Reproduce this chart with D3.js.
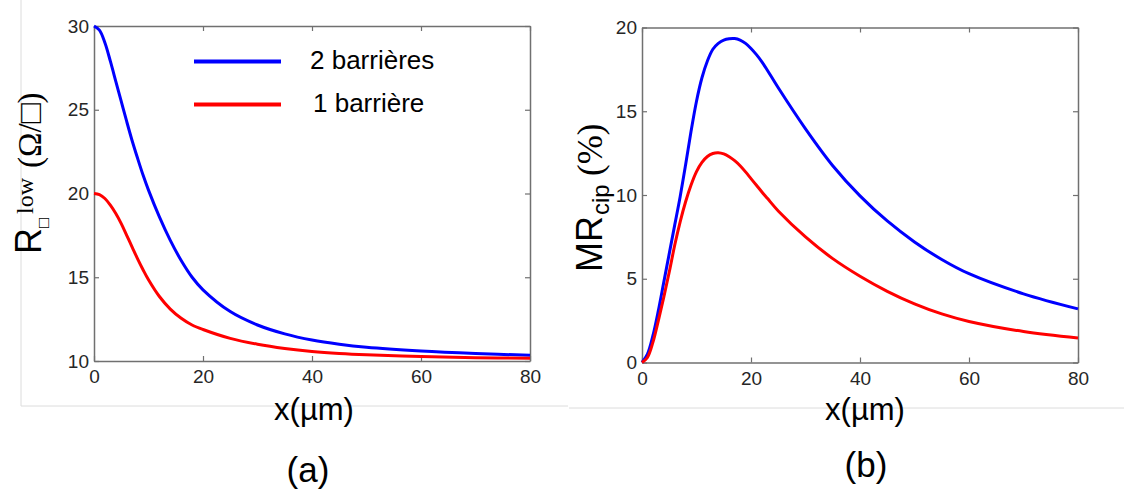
<!DOCTYPE html>
<html>
<head>
<meta charset="utf-8">
<script src="https://cdn.jsdelivr.net/npm/d3@7"></script>
<style>
  html, body { margin: 0; padding: 0; background: #ffffff; }
  svg { display: block; }
</style>
</head>
<body>
<svg id="chart" width="1124" height="493"></svg>
<script>
// ---------- data ----------
const xTicks = [0, 20, 40, 60, 80];
const yTicksA = [10, 15, 20, 25, 30];
const yTicksB = [0, 5, 10, 15, 20];
const seriesNames = ["2 barrières", "1 barrière"];
const seriesColors = ["#0000ff", "#ff0000"];

// panel (a): R_low vs x
const xA      = [0, 1, 2, 3, 4, 5, 6, 7, 8, 9, 10, 12, 14, 16, 18, 20, 25, 30, 35, 40, 45, 50, 60, 70, 80];
const blueA   = [30.0, 29.75, 29.0, 27.9, 26.7, 25.5, 24.3, 23.15, 22.1, 21.1, 20.2, 18.6, 17.2, 16.0, 15.0, 14.25, 12.95, 12.15, 11.62, 11.25, 11.0, 10.82, 10.6, 10.45, 10.34];
const redA    = [20.0, 19.93, 19.7, 19.3, 18.8, 18.2, 17.5, 16.8, 16.1, 15.45, 14.85, 13.85, 13.1, 12.55, 12.15, 11.88, 11.35, 11.0, 10.75, 10.57, 10.45, 10.37, 10.27, 10.2, 10.16];

// panel (b): MR_cip vs x
const xB      = [0, 1, 2, 3, 4, 5, 6, 7, 8, 9, 10, 11, 12, 13, 14, 15, 16, 17, 18, 19, 20, 21, 22, 23, 25, 30, 35, 40, 45, 50, 55, 60, 70, 80];
const blueB   = [0, 0.5, 1.6, 3.1, 4.8, 6.5, 8.2, 9.9, 11.8, 13.8, 15.6, 17.0, 18.0, 18.7, 19.05, 19.25, 19.33, 19.34, 19.25, 19.05, 18.75, 18.38, 17.95, 17.45, 16.4, 13.95, 11.75, 9.95, 8.45, 7.2, 6.15, 5.3, 4.1, 3.2];
const redB    = [0, 0.3, 1.2, 2.5, 3.9, 5.4, 7.0, 8.4, 9.6, 10.6, 11.4, 11.95, 12.3, 12.48, 12.52, 12.45, 12.28, 12.05, 11.75, 11.38, 10.98, 10.58, 10.18, 9.8, 9.05, 7.5, 6.2, 5.15, 4.25, 3.5, 2.9, 2.45, 1.85, 1.46];

// ---------- drawing ----------
const svg = d3.select("#chart");
const SANS = "'Liberation Sans', Arial, Helvetica, sans-serif";
const SERIF = "'Liberation Serif', 'Times New Roman', serif";
const AXIS_COLOR = "#707070";
const TICK_TEXT = "#262626";

// faint panel frames
svg.append("line").attr("x1", 21).attr("y1", 0).attr("x2", 21).attr("y2", 406)
  .attr("stroke", "#dcdcdc").attr("stroke-width", 1);
svg.append("line").attr("x1", 21).attr("y1", 406).attr("x2", 568).attr("y2", 406)
  .attr("stroke", "#dcdcdc").attr("stroke-width", 1);
svg.append("line").attr("x1", 569).attr("y1", 408).attr("x2", 1124).attr("y2", 408)
  .attr("stroke", "#dcdcdc").attr("stroke-width", 1);

function panel(cfg) {
  const x = d3.scaleLinear().domain([0, 80]).range([cfg.left, cfg.right]);
  const y = d3.scaleLinear().domain(cfg.yDomain).range([cfg.bottom, cfg.top]);
  const g = svg.append("g");

  function styleAxis(sel, labels) {
    sel.selectAll(".domain").attr("stroke", AXIS_COLOR).attr("stroke-width", 1.5);
    sel.selectAll(".tick line").attr("stroke", AXIS_COLOR).attr("stroke-width", 1.2);
    sel.selectAll(".tick text").attr("fill", TICK_TEXT)
      .style("font-family", SANS).style("font-size", "19px");
    if (!labels) sel.selectAll(".tick text").remove();
  }

  // bottom
  g.append("g").attr("transform", `translate(0,${cfg.bottom})`)
    .call(d3.axisBottom(x).tickValues(xTicks).tickSizeInner(-5).tickSizeOuter(0).tickPadding(9))
    .call(s => styleAxis(s, true));
  // top
  g.append("g").attr("transform", `translate(0,${cfg.top})`)
    .call(d3.axisTop(x).tickValues(xTicks).tickSizeInner(-5).tickSizeOuter(0))
    .call(s => styleAxis(s, false));
  // left
  g.append("g").attr("transform", `translate(${cfg.left},0)`)
    .call(d3.axisLeft(y).tickValues(cfg.yTicks).tickSizeInner(-5).tickSizeOuter(0).tickPadding(5))
    .call(s => styleAxis(s, true));
  // right
  g.append("g").attr("transform", `translate(${cfg.right},0)`)
    .call(d3.axisRight(y).tickValues(cfg.yTicks).tickSizeInner(-5).tickSizeOuter(0))
    .call(s => styleAxis(s, false));

  // curves
  cfg.series.forEach((vals, i) => {
    const pts = cfg.xs.map((xv, k) => [xv, vals[k]]);
    g.append("path")
      .datum(pts)
      .attr("fill", "none")
      .attr("stroke", seriesColors[i])
      .attr("stroke-width", 3)
      .attr("stroke-linejoin", "round")
      .attr("d", d3.line().x(d => x(d[0])).y(d => y(d[1])).curve(d3.curveCatmullRom.alpha(0.5)));
  });

  // x label
  g.append("text")
    .attr("x", cfg.xLabelX).attr("y", 420)
    .attr("text-anchor", "middle")
    .style("font-family", SANS).style("font-size", "31px").attr("fill", "#000")
    .text("x(µm)");

  // panel letter
  g.append("text")
    .attr("x", cfg.letterX).attr("y", cfg.letterY)
    .attr("text-anchor", "middle")
    .style("font-family", SANS).style("font-size", "35px").attr("fill", "#000")
    .text(cfg.letter);

  return { g, x, y };
}

const pa = panel({
  left: 94, right: 530, top: 26, bottom: 361,
  yDomain: [10, 30], yTicks: yTicksA,
  xs: xA, series: [blueA, redA],
  xLabelX: 314, letter: "(a)", letterX: 308, letterY: 482
});

const pb = panel({
  left: 642, right: 1078, top: 27.5, bottom: 362.5,
  yDomain: [0, 20], yTicks: yTicksB,
  xs: xB, series: [blueB, redB],
  xLabelX: 865, letter: "(b)", letterX: 866, letterY: 477
});

// legend in panel (a)
const legendY = [61.5, 104.5];
const legendTextX = [310, 313];
seriesNames.forEach((name, i) => {
  pa.g.append("line")
    .attr("x1", 194).attr("x2", 281)
    .attr("y1", legendY[i]).attr("y2", legendY[i])
    .attr("stroke", seriesColors[i]).attr("stroke-width", 4);
  pa.g.append("text")
    .attr("x", legendTextX[i]).attr("y", legendY[i] + 7)
    .style("font-family", SANS).style("font-size", "26px").attr("fill", "#000")
    .text(name);
});

// y label (a): R□^low (Ω/□)
const yla = svg.append("text")
  .attr("transform", "translate(41,254) rotate(-90)")
  .attr("fill", "#000");
yla.append("tspan").attr("x", 0).attr("y", 0)
  .style("font-family", SANS).style("font-size", "36px").text("R");
yla.append("tspan").attr("x", 26).attr("y", 8)
  .style("font-family", SANS).style("font-size", "17px").text("□");
yla.append("tspan").attr("x", 40).attr("y", -8)
  .style("font-family", SERIF).style("font-size", "24px").text("low");
yla.append("tspan").attr("x", 86).attr("y", 0)
  .style("font-family", SERIF).style("font-size", "33px").text("(Ω/□)");

// y label (b): MR_cip (%)
const ylb = svg.append("text")
  .attr("transform", "translate(602,272) rotate(-90)")
  .attr("fill", "#000");
ylb.append("tspan").attr("x", 0).attr("y", 0)
  .style("font-family", SANS).style("font-size", "36px").text("MR");
ylb.append("tspan").attr("x", 57).attr("y", 7)
  .style("font-family", SANS).style("font-size", "24px").text("cip");
ylb.append("tspan").attr("x", 96).attr("y", 0)
  .style("font-family", SERIF).style("font-size", "35px").text("(%)");
</script>
</body>
</html>
